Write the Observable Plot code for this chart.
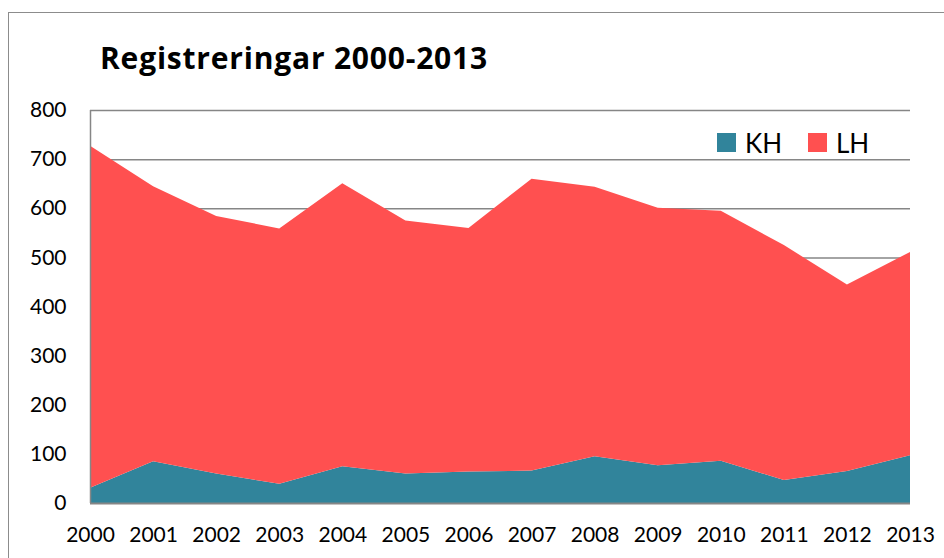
<!DOCTYPE html>
<html><head><meta charset="utf-8">
<script src="https://cdn.jsdelivr.net/npm/d3@7"></script>
<script src="https://cdn.jsdelivr.net/npm/@observablehq/plot@0.6"></script>
<style>
html,body{margin:0;padding:0;background:#fff;overflow:hidden;}
#wrap{position:relative;width:944px;height:558px;font-family:Lato,sans-serif;overflow:hidden;}
#frame{position:absolute;left:8px;top:12px;width:1000px;height:700px;border:1.5px solid #8c8c8c;box-sizing:border-box;}
#title{position:absolute;left:100px;top:43px;font-family:"Open Sans",sans-serif;font-weight:bold;font-size:30px;line-height:30px;letter-spacing:0.8px;color:#000;white-space:nowrap;}
#chart{position:absolute;left:0;top:0;}
.sw{position:absolute;width:19px;height:19px;}
.lt{position:absolute;font-size:26px;line-height:26px;color:#000;}
</style></head>
<body><div id="wrap"><div id="frame"></div><div id="chart"></div><div id="title">Registreringar 2000-2013</div><div id="legend"></div></div>
<script>
const years = [2000,2001,2002,2003,2004,2005,2006,2007,2008,2009,2010,2011,2012,2013];
const seriesNames = ["KH","LH"];
const seriesColors = ["#31849B","#FF5050"];
const KH = [31,85,60,39,75,60,64,66,95,77,86,47,65,97];
const LH = [696,560,524,520,576,515,496,594,549,524,509,478,380,414];
const yTicks = [0,100,200,300,400,500,600,700,800];

const data = [];
years.forEach((y,i)=>{
  data.push({year:y, series:"KH", value:KH[i]});
  data.push({year:y, series:"LH", value:LH[i]});
});

const plot = Plot.plot({
  width:944, height:558,
  marginLeft:90, marginRight:34, marginTop:110, marginBottom:55,
  style:{fontFamily:"Lato, sans-serif", fontSize:"21px", color:"#000", background:"transparent"},
  x:{type:"linear", domain:[2000,2013], ticks:years, tickFormat:d=>String(d), tickSize:0, tickPadding:24, label:null},
  y:{domain:[0,800], ticks:yTicks, tickSize:0, tickPadding:24, label:null},
  color:{domain:seriesNames, range:seriesColors},
  marks:[
    Plot.ruleY(yTicks.filter(t=>t>0), {stroke:"#868686", strokeWidth:1.5, strokeOpacity:1}),
    Plot.areaY(data, {x:"year", y:"value", z:"series", fill:"series", order:seriesNames}),
    Plot.ruleX([2000], {y1:0, y2:800, stroke:"#868686", strokeWidth:1.5}),
    Plot.ruleY([0], {stroke:"#868686", strokeWidth:2})
  ]
});
document.getElementById("chart").appendChild(plot);

const leg = document.getElementById("legend");
const legX = [717, 808];
seriesNames.forEach((s,i)=>{
  const sw = document.createElement("div");
  sw.className="sw"; sw.style.left=legX[i]+"px"; sw.style.top="133px"; sw.style.background=seriesColors[i];
  leg.appendChild(sw);
  const t = document.createElement("div");
  t.className="lt"; t.style.left=(legX[i]+28)+"px"; t.style.top="130px"; t.textContent=s;
  leg.appendChild(t);
});
</script></body></html>
